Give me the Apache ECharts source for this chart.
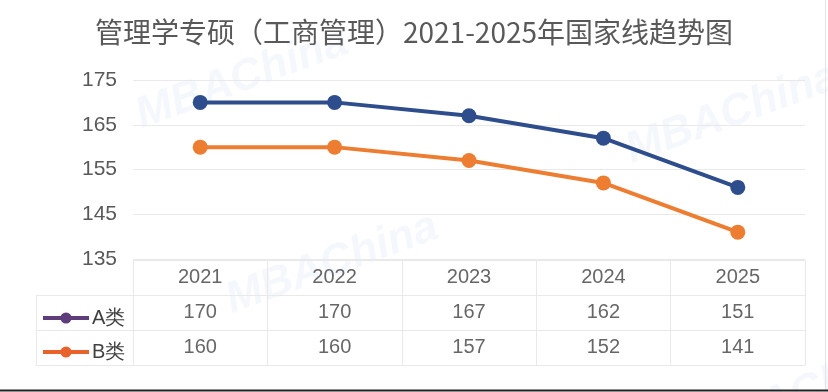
<!DOCTYPE html>
<html><head><meta charset="utf-8">
<script src="https://cdn.jsdelivr.net/npm/echarts@6/dist/echarts.min.js"></script>
<style>html,body{margin:0;padding:0;background:#fff}#c{width:828px;height:392px}</style>
</head><body><div id="c"></div>
<script>
const titleText = '管理学专硕（工商管理）2021-2025年国家线趋势图';
const years = ['2021','2022','2023','2024','2025'];
const seriesA = [170,170,167,162,151];
const seriesB = [160,160,157,152,141];
const nameA = 'A类';
const nameB = 'B类';
const yTicks = {min:135, max:175, interval:10};
const tableRows = ['header', nameA, nameB];

const cellData = [];
years.forEach((y,i)=>{
  cellData.push([y,'header',y]);
  cellData.push([y,nameA,String(seriesA[i])]);
  cellData.push([y,nameB,String(seriesB[i])]);
});

const chart = echarts.init(document.getElementById('c'));
const gridColor = '#e9e9e9';
const textColor = '#404040';
const wm = 'rgba(190,210,235,0.17)';
chart.setOption({
  animation:false,
  backgroundColor:'#ffffff',
  title:{text:titleText,left:'center',top:13,textStyle:{fontFamily:'Noto Sans CJK SC',fontSize:28,fontWeight:'normal',color:'#595959'}},
  graphic:[
    {type:'text',left:130,top:20,rotation:0.35,silent:true,z:-1,style:{text:'MBAChina',fontSize:44,fontStyle:'italic',fontWeight:'bold',fontFamily:'Liberation Sans',fill:wm}},
    {type:'text',left:220,top:205,rotation:0.35,silent:true,z:-1,style:{text:'MBAChina',fontSize:44,fontStyle:'italic',fontWeight:'bold',fontFamily:'Liberation Sans',fill:wm}},
    {type:'text',left:620,top:55,rotation:0.35,silent:true,z:-1,style:{text:'MBAChina',fontSize:44,fontStyle:'italic',fontWeight:'bold',fontFamily:'Liberation Sans',fill:wm}},
    {type:'text',left:690,top:335,rotation:0.35,silent:true,z:-1,style:{text:'MBAChina',fontSize:44,fontStyle:'italic',fontWeight:'bold',fontFamily:'Liberation Sans',fill:wm}},
    {type:'line',silent:true,shape:{x1:0,y1:390.5,x2:828,y2:390.5},style:{stroke:'#222',lineWidth:2}},
    {type:'line',silent:true,shape:{x1:825.5,y1:0,x2:825.5,y2:389},style:{stroke:'#e4e4e4',lineWidth:1}}
  ],
  legend:{
    orient:'vertical',left:36,top:303,itemWidth:46,itemHeight:14,itemGap:14,
    textStyle:{fontFamily:'Liberation Sans',fontSize:20,color:textColor,padding:[0,0,0,-2]},
    data:[
      {name:nameA,itemStyle:{color:'#5e3d7a'},lineStyle:{color:'#5e3d7a',width:4}},
      {name:nameB,itemStyle:{color:'#e8622c'},lineStyle:{color:'#e8622c',width:4}}
    ]
  },
  grid:[
    {left:133,right:23,top:80,height:179},
    {left:133,right:23,top:260,height:105},
    {left:36,top:295,width:97,height:70}
  ],
  xAxis:[
    {gridIndex:0,type:'category',data:years,boundaryGap:true,axisLine:{show:false},axisTick:{show:false},axisLabel:{show:false}},
    {gridIndex:1,type:'category',data:years,boundaryGap:true,axisLine:{show:true,lineStyle:{color:gridColor}},axisTick:{show:false},axisLabel:{show:false},splitLine:{show:true,lineStyle:{color:gridColor,width:1}}},
    {gridIndex:2,type:'category',data:['legend'],boundaryGap:true,axisLine:{show:true,lineStyle:{color:gridColor}},axisTick:{show:false},axisLabel:{show:false},splitLine:{show:true,lineStyle:{color:gridColor,width:1}}}
  ],
  yAxis:[
    {gridIndex:0,type:'value',min:yTicks.min,max:yTicks.max,interval:yTicks.interval,axisLine:{show:false},axisTick:{show:false},
      axisLabel:{margin:16,fontFamily:'Liberation Sans',fontSize:21,color:'#595959'},splitLine:{lineStyle:{color:gridColor,width:1}}},
    {gridIndex:1,type:'category',data:tableRows,inverse:true,boundaryGap:true,axisLine:{show:true,lineStyle:{color:gridColor}},axisTick:{show:false},axisLabel:{show:false},splitLine:{show:true,lineStyle:{color:gridColor,width:1}}},
    {gridIndex:2,type:'category',data:[nameA,nameB],inverse:true,boundaryGap:true,axisLine:{show:true,lineStyle:{color:gridColor}},axisTick:{show:false},axisLabel:{show:false},splitLine:{show:true,lineStyle:{color:gridColor,width:1}}}
  ],
  series:[
    {name:nameA,type:'line',xAxisIndex:0,yAxisIndex:0,data:seriesA,symbol:'circle',symbolSize:15,
      lineStyle:{color:'#2e4d8c',width:4},itemStyle:{color:'#2e4d8c'},z:3},
    {name:nameB,type:'line',xAxisIndex:0,yAxisIndex:0,data:seriesB,symbol:'circle',symbolSize:15,
      lineStyle:{color:'#ed7d31',width:4},itemStyle:{color:'#ed7d31'},z:3},
    {type:'scatter',xAxisIndex:1,yAxisIndex:1,data:cellData,symbolSize:0,silent:true,
      label:{show:true,position:'inside',formatter:p=>p.value[2],fontFamily:'Liberation Sans',fontSize:20,color:textColor}}
  ]
});
</script></body></html>
